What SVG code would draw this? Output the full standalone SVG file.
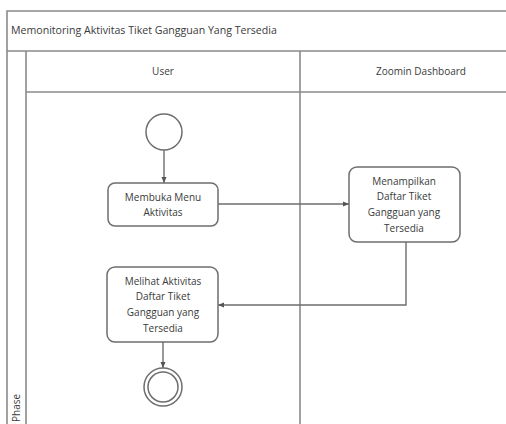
<svg xmlns="http://www.w3.org/2000/svg" width="506" height="424" viewBox="0 0 506 424">
  <defs>
    <marker id="arrow" viewBox="0 0 6 6" refX="6" refY="3" markerWidth="6" markerHeight="6" orient="auto" markerUnits="userSpaceOnUse">
      <path d="M0,0.5 L6,3 L0,5.5 Z" fill="#555"/>
    </marker>
  </defs>
  <style>
    .frame { fill: none; stroke: #8a8a8a; stroke-width: 1.6; }
    .act { fill: #fff; stroke: #6e6e6e; stroke-width: 1.5; }
    .edge { fill: none; stroke: #6e6e6e; stroke-width: 1.4; }
    text { font-family: "Open Sans", "Liberation Sans", sans-serif; fill: #3a3a3a; }
    .title { font-size: 10.6px; }
    .phase { font-size: 10px; }
    .lane { font-size: 10px; text-anchor: middle; }
    .lbl { font-size: 10px; text-anchor: middle; }
  </style>
  <rect width="506" height="424" fill="#fff"/>

  <!-- pool and lanes -->
  <g id="pool">
    <path class="frame" d="M7,424 V11 H506 M7,51 H506 M26,51 V424 M26,92 H506 M300,51 V424"/>
    <text class="title" x="11" y="34">Memonitoring Aktivitas Tiket Gangguan Yang Tersedia</text>
    <text class="lane" x="163" y="75">User</text>
    <text class="lane" x="421" y="75">Zoomin Dashboard</text>
    <text class="phase" transform="translate(20,424) rotate(-90)" x="2" y="0">Phase</text>
  </g>

  <!-- connectors -->
  <g id="connectors">
    <path class="edge" d="M164,150 V183" marker-end="url(#arrow)"/>
    <path class="edge" d="M218,204 H349" marker-end="url(#arrow)"/>
    <path class="edge" d="M406,242 V305 H218" marker-end="url(#arrow)"/>
    <path class="edge" d="M163,342 V368" marker-end="url(#arrow)"/>
  </g>

  <g id="start">
    <circle class="act" cx="164" cy="132" r="18"/>
  </g>

  <g id="membuka-menu">
    <rect class="act" x="108" y="183" width="110" height="43" rx="7"/>
    <text class="lbl" x="163" y="201">Membuka Menu</text>
    <text class="lbl" x="163" y="216">Aktivitas</text>
  </g>

  <g id="menampilkan-daftar">
    <rect class="act" x="349" y="167" width="111" height="75" rx="8"/>
    <text class="lbl" x="404" y="185">Menampilkan</text>
    <text class="lbl" x="404" y="200">Daftar Tiket</text>
    <text class="lbl" x="404" y="216">Gangguan yang</text>
    <text class="lbl" x="404" y="232">Tersedia</text>
  </g>

  <g id="melihat-aktivitas">
    <rect class="act" x="107" y="267" width="111" height="75" rx="8"/>
    <text class="lbl" x="163" y="285">Melihat Aktivitas</text>
    <text class="lbl" x="163" y="300">Daftar Tiket</text>
    <text class="lbl" x="163" y="316">Gangguan yang</text>
    <text class="lbl" x="163" y="332">Tersedia</text>
  </g>

  <g id="end">
    <circle class="act" cx="163" cy="387" r="19"/>
    <circle class="act" cx="163" cy="387" r="15"/>
  </g>
</svg>
